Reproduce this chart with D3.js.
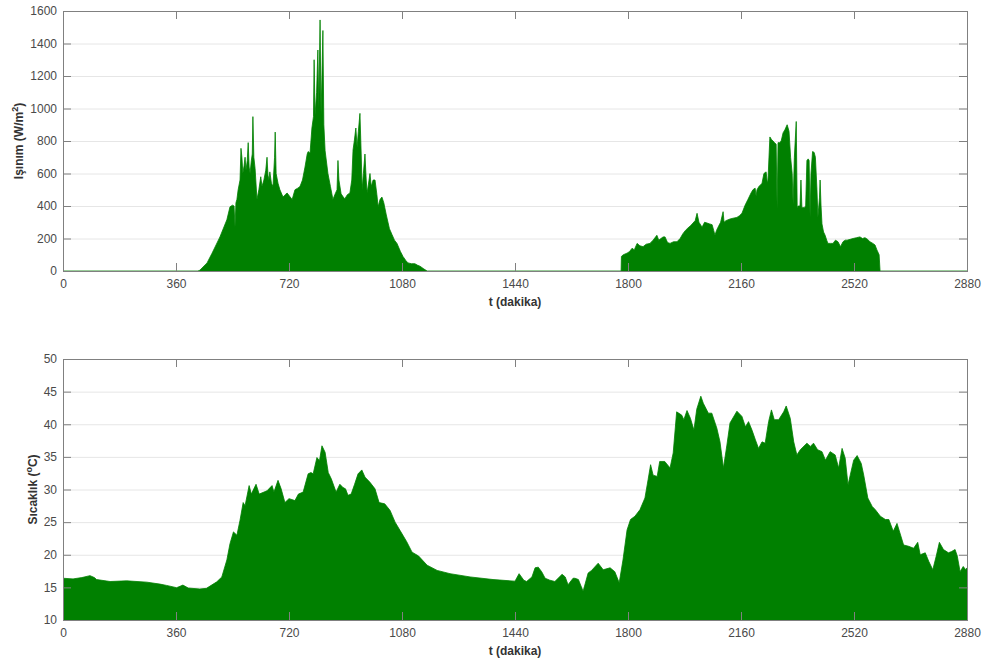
<!DOCTYPE html>
<html>
<head>
<meta charset="utf-8">
<script src="https://cdn.jsdelivr.net/npm/d3@7"></script>
<style>
  html, body { margin: 0; padding: 0; background: #fff; }
  svg { display: block; font-family: "Liberation Sans", Arial, Helvetica, sans-serif; }
</style>
</head>
<body>
<svg id="chart" width="984" height="664"></svg>
<script>
// Time axis (minutes) shared by both panels
const xTicks = [0, 360, 720, 1080, 1440, 1800, 2160, 2520, 2880];
const irrTicks = [0, 200, 400, 600, 800, 1000, 1200, 1400, 1600];
const tempTicks = [10, 15, 20, 25, 30, 35, 40, 45, 50];

// Solar irradiance, W/m² — [minute, value]
const irradiance = [
  [0,0],[430,0],[436,5],[459,50],[475,110],[500,210],[522,315],[532,395],[540,405],[545,400],
  [548,270],[551,420],[554,440],[558,500],[564,560],[567,755],[570,700],[573,600],[577,650],[580,700],
  [583,620],[587,680],[590,790],[593,640],[596,600],[600,680],[603,720],[605,950],[608,700],[612,630],
  [618,440],[624,500],[630,580],[634,520],[640,560],[646,620],[650,700],[653,590],[656,560],[659,610],
  [664,540],[669,520],[674,700],[676,855],[679,600],[685,540],[691,500],[701,455],[708,470],[714,480],
  [722,460],[730,440],[739,500],[748,510],[755,520],[763,560],[771,640],[778,720],[781,735],[787,725],
  [793,880],[798,950],[800,1300],[803,960],[808,1100],[812,1360],[815,1000],[819,1545],[822,960],[825,1200],
  [828,1480],[831,900],[835,740],[844,600],[852,520],[860,440],[866,470],[873,500],[876,680],[879,560],
  [886,475],[893,455],[898,445],[906,470],[914,480],[920,560],[924,745],[928,800],[933,880],[937,760],
  [941,860],[946,970],[950,720],[953,500],[957,600],[962,720],[966,560],[969,480],[975,560],[978,600],
  [982,520],[988,560],[994,560],[1000,470],[1004,395],[1010,440],[1016,455],[1022,420],[1030,345],[1040,260],
  [1048,225],[1056,190],[1064,170],[1075,120],[1083,90],[1092,65],[1099,50],[1110,45],[1121,45],[1130,35],
  [1137,30],[1150,12],[1160,0],
  [1778,0],[1779,90],[1785,100],[1797,110],[1805,120],[1813,140],[1820,130],[1829,170],[1838,155],[1848,150],
  [1858,165],[1870,170],[1880,190],[1892,220],[1898,190],[1905,200],[1912,210],[1918,210],[1926,175],[1934,170],
  [1945,180],[1956,180],[1966,200],[1975,230],[1983,250],[1991,265],[2000,280],[2007,295],[2014,310],[2020,355],
  [2026,300],[2036,270],[2044,300],[2052,295],[2060,290],[2068,285],[2073,250],[2077,220],[2082,250],[2087,270],
  [2095,300],[2103,365],[2106,300],[2112,310],[2125,320],[2135,325],[2147,330],[2155,340],[2163,355],[2173,405],
  [2182,440],[2192,480],[2198,500],[2205,510],[2208,460],[2211,500],[2217,520],[2222,530],[2227,540],[2233,600],
  [2240,610],[2244,540],[2246,560],[2252,825],[2257,810],[2262,800],[2267,790],[2272,780],[2275,380],[2278,790],
  [2283,790],[2288,800],[2294,850],[2300,870],[2307,900],[2313,860],[2318,700],[2323,600],[2326,410],[2330,700],
  [2336,920],[2339,390],[2342,400],[2348,400],[2351,560],[2354,390],[2361,390],[2366,400],[2370,680],[2374,690],
  [2377,680],[2380,330],[2383,600],[2388,735],[2393,730],[2397,700],[2402,500],[2405,330],[2410,450],[2412,560],
  [2415,400],[2418,290],[2423,240],[2428,220],[2433,190],[2437,170],[2445,170],[2453,170],[2461,190],[2469,180],
  [2477,150],[2485,180],[2492,190],[2498,190],[2508,195],[2517,200],[2528,205],[2539,210],[2547,200],[2555,205],
  [2563,195],[2571,180],[2580,170],[2587,160],[2593,130],[2600,100],[2603,0],[2880,0]
];

// Air temperature, °C — [minute, value]
const temperature = [
  [0,16.4],[32,16.3],[60,16.5],[86,16.8],[100,16.5],[107,16.2],[150,15.9],[203,16.0],[267,15.8],[309,15.5],
  [330,15.3],[362,14.95],[382,15.35],[399,14.9],[436,14.75],[457,14.85],[490,15.85],[506,16.6],[522,19.2],[532,21.7],
  [543,23.5],[554,23.0],[564,25.3],[574,28.0],[580,27.5],[593,30.6],[600,29.3],[615,30.8],[625,29.3],[650,29.8],
  [666,30.6],[672,29.6],[685,31.4],[695,30.1],[707,28.0],[720,28.6],[739,28.3],[750,29.3],[765,29.6],[781,32.4],
  [790,32.6],[797,32.4],[809,34.9],[817,34.4],[825,36.7],[835,35.7],[845,32.6],[855,31.6],[870,29.6],[882,30.8],
  [892,30.3],[900,30.1],[908,29.1],[918,29.3],[929,30.8],[940,32.4],[952,33.0],[962,31.9],[978,31.1],[994,30.1],
  [1007,28.0],[1025,27.8],[1042,26.8],[1058,25.0],[1074,23.7],[1095,22.0],[1112,20.4],[1133,19.8],[1160,18.4],[1192,17.6],
  [1233,17.1],[1297,16.6],[1370,16.2],[1440,15.95],[1453,17.1],[1468,16.1],[1477,15.9],[1494,16.6],[1504,18.0],[1514,18.1],
  [1525,17.4],[1536,16.4],[1551,16.1],[1567,15.9],[1590,17.0],[1600,16.6],[1609,15.4],[1625,16.4],[1631,16.4],[1642,16.2],
  [1657,14.4],[1673,17.2],[1684,17.6],[1705,18.7],[1721,17.7],[1743,18.0],[1758,17.4],[1772,15.7],[1784,19.2],[1797,23.8],
  [1808,25.4],[1822,25.9],[1838,26.9],[1854,28.7],[1864,31.5],[1872,33.8],[1880,32.2],[1893,32.0],[1901,34.3],[1917,34.3],
  [1934,33.3],[1944,35.6],[1955,41.9],[1971,41.4],[1978,40.7],[1988,42.1],[1999,40.9],[2010,39.1],[2019,42.3],[2032,44.3],
  [2040,43.2],[2056,41.7],[2067,41.7],[2083,39.4],[2093,37.3],[2104,33.3],[2115,36.8],[2125,40.2],[2147,42.0],[2163,41.2],
  [2174,39.6],[2184,40.4],[2195,39.1],[2206,37.6],[2216,36.3],[2227,37.3],[2237,37.1],[2248,40.4],[2257,42.2],[2266,40.7],
  [2280,40.7],[2296,41.9],[2304,42.8],[2317,40.9],[2328,37.3],[2338,35.3],[2349,36.1],[2370,37.1],[2381,36.6],[2391,37.1],
  [2404,36.1],[2418,35.8],[2429,34.5],[2444,35.8],[2460,35.3],[2471,33.3],[2482,36.3],[2492,34.8],[2501,30.7],[2508,32.2],
  [2519,34.5],[2530,35.2],[2543,34.0],[2551,32.2],[2564,28.7],[2578,27.4],[2588,26.9],[2604,25.9],[2620,25.4],[2631,25.4],
  [2645,23.6],[2657,24.8],[2678,21.5],[2694,21.3],[2710,21.0],[2723,21.9],[2731,20.0],[2747,20.3],[2758,19.0],[2771,17.7],
  [2782,19.8],[2792,21.9],[2805,20.8],[2821,20.3],[2831,20.5],[2842,20.8],[2849,19.8],[2858,17.4],[2868,18.2],[2876,17.7],
  [2880,18.0]
];

const svg = d3.select("#chart");
const fillColor = "#008000";
const axisColor = "#808080";
const textColor = "#4a4a4a";
const left = 63, right = 967;
const fmt = d3.format("d");

const x = d3.scaleLinear().domain([0, 2880]).range([left, right]);

function panel(opts) {
  const { top, bottom, domain, ticks, data, yLabel, labelX } = opts;
  const y = d3.scaleLinear().domain(domain).range([bottom, top]);
  const g = svg.append("g");

  // horizontal grid
  g.append("g").selectAll("line").data(ticks.slice(1, -1)).join("line")
    .attr("x1", left).attr("x2", right)
    .attr("y1", d => y(d) + 0.5).attr("y2", d => y(d) + 0.5)
    .attr("stroke", "#e6e6e6").attr("stroke-width", 1);

  // filled series
  const area = d3.area().x(d => x(d[0])).y0(y(domain[0])).y1(d => y(d[1]));
  const line = d3.line().x(d => x(d[0])).y(d => y(d[1]));
  g.append("path").datum(data).attr("d", area).attr("fill", fillColor);
  g.append("path").datum(data).attr("d", line)
    .attr("fill", "none").attr("stroke", fillColor).attr("stroke-width", 0.8);

  // axes (ticks pointing inward)
  const tickLen = 8;
  const ax = g.append("g").attr("transform", `translate(0,${bottom})`)
    .call(d3.axisBottom(x).tickValues(xTicks).tickFormat(fmt).tickSizeInner(-tickLen).tickSizeOuter(0).tickPadding(8));
  const axTop = g.append("g").attr("transform", `translate(0,${top})`)
    .call(d3.axisTop(x).tickValues(xTicks).tickSizeInner(-tickLen).tickSizeOuter(0).tickFormat(""));
  const ay = g.append("g").attr("transform", `translate(${left},0)`)
    .call(d3.axisLeft(y).tickValues(ticks).tickFormat(fmt).tickSizeInner(-tickLen).tickSizeOuter(0).tickPadding(6));
  const ayR = g.append("g").attr("transform", `translate(${right},0)`)
    .call(d3.axisRight(y).tickValues(ticks).tickSizeInner(-tickLen).tickSizeOuter(0).tickFormat(""));

  [ax, axTop, ay, ayR].forEach(a => {
    a.select(".domain").remove();
    a.selectAll(".tick line").attr("stroke", axisColor);
    a.selectAll(".tick text").attr("fill", textColor).attr("font-size", 12)
      .attr("font-family", "'Liberation Sans', Arial, sans-serif");
  });

  // box
  g.append("rect").attr("x", left + 0.5).attr("y", top + 0.5)
    .attr("width", right - left).attr("height", bottom - top)
    .attr("fill", "none").attr("stroke", axisColor).attr("stroke-width", 1);

  // x label
  g.append("text").attr("x", (left + right) / 2).attr("y", bottom + 35)
    .attr("text-anchor", "middle").attr("font-size", 12).attr("font-weight", "bold")
    .attr("fill", "#333").text("t (dakika)");

  // y label
  const yl = g.append("text")
    .attr("transform", `translate(${labelX},${(top + bottom) / 2}) rotate(-90)`)
    .attr("text-anchor", "middle").attr("font-size", 12).attr("font-weight", "bold")
    .attr("fill", "#333");
  yLabel(yl);
}

panel({
  top: 11, bottom: 271, domain: [0, 1600], ticks: irrTicks, data: irradiance, labelX: 23,
  yLabel: t => {
    t.append("tspan").text("Işınım (W/m");
    t.append("tspan").attr("baseline-shift", "super").attr("font-size", 9).text("2");
    t.append("tspan").text(")");
  }
});

panel({
  top: 359, bottom: 620, domain: [10, 50], ticks: tempTicks, data: temperature, labelX: 37,
  yLabel: t => {
    t.append("tspan").text("Sıcaklık (");
    t.append("tspan").attr("baseline-shift", "super").attr("font-size", 9).text("o");
    t.append("tspan").text("C)");
  }
});
</script>
</body>
</html>
